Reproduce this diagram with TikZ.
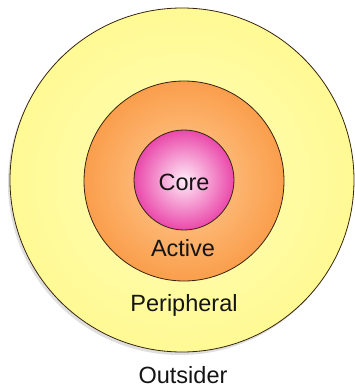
\documentclass[tikz,border=0pt]{standalone}
\usepackage{fontspec}
\setmainfont{Liberation Sans}
\usepackage{xcolor}
\usepackage{tikz}
\usetikzlibrary{shadows}

\definecolor{outerYellow}{RGB}{255,250,148}
\definecolor{outerYellowIn}{RGB}{255,253,185}
\definecolor{activeOrange}{RGB}{250,158,76}
\definecolor{activeOrangeIn}{RGB}{255,205,150}
\definecolor{corePink}{RGB}{234,72,170}
\definecolor{corePinkIn}{RGB}{255,235,248}
\definecolor{ringEdge}{RGB}{55,35,15}

\tikzset{
    ring/.style={circle, draw=ringEdge, line width=0.8pt, inner sep=0pt},
    label/.style={font=\fontsize{23.5}{28}\selectfont, text=black!92}
}

\begin{document}
\begin{tikzpicture}[x=1pt, y=-1pt]
        % 画布边界
        \useasboundingbox[fill=white] (0,0) rectangle (355,391);

        % 三个同心圆 (外 -> 内)
        \node[ring, minimum size=344pt, shading=radial, inner color=outerYellowIn, outer color=outerYellow,
              drop shadow={shadow xshift=-2pt, shadow yshift=-3pt, opacity=0.25}] (peripheral ring) at (182,180) {};
        \node[ring, minimum size=200pt, shading=radial, inner color=activeOrangeIn, outer color=activeOrange] (active ring) at (184,181) {};
        \node[ring, minimum size=100pt, shading=radial, inner color=corePinkIn, outer color=corePink] (core ring) at (184,180) {};

        % 标签
        \node[label] (core) at (184,182) {Core};
        \node[label] (active) at (183,248) {Active};
        \node[label] (peripheral) at (184,305) {Peripheral};
        \node[label] (outsider) at (183,375) {Outsider};
    \end{tikzpicture}
\end{document}
